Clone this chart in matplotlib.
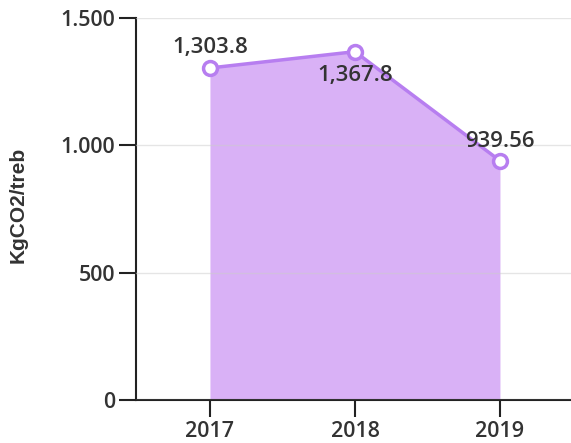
import numpy as np
import matplotlib as mpl
mpl.use('Agg')
import matplotlib.pyplot as plt

# data
years = ['2017', '2018', '2019']
values = [1303.8, 1367.8, 939.56]
value_labels = ['1,303.8', '1,367.8', '939.56']
y_ticks = [0, 500, 1000, 1500]
y_tick_labels = ['0', '500', '1.000', '1.500']

line_color = '#b77ef0'
fill_color = '#d9b1f6'
text_color = '#333333'

plt.rcParams['font.family'] = ['Open Sans', 'DejaVu Sans']

fig = plt.figure(figsize=(5.71, 4.43), dpi=100)
ax = fig.add_axes([136/571, 43/443, 435/571, 382/443])

x = np.arange(len(years))
ax.fill_between(x, 0, values, color=fill_color, linewidth=0, zorder=1)
ax.plot(x, values, color=line_color, linewidth=2.5, zorder=3)
ax.plot(x, values, 'o', markersize=10, markerfacecolor='white',
        markeredgecolor=line_color, markeredgewidth=2.5, zorder=4)

# value labels
offsets = [(0, 15), (0, -17), (0, 14)]
for xi, v, lab, off in zip(x, values, value_labels, offsets):
    ax.annotate(lab, (xi, v), xytext=off, textcoords='offset points',
                ha='center', va='center', fontsize=16, color=text_color,
                fontweight='semibold')

ax.set_xlim(-0.51, 2.49)
ax.set_ylim(0, 1500)
ax.set_xticks(x)
ax.set_xticklabels(years)
ax.set_yticks(y_ticks)
ax.set_yticklabels(y_tick_labels)

ax.grid(axis='y', color='#cccccc', alpha=0.5, linewidth=1, zorder=2)
ax.set_axisbelow(False)
for s in ['top', 'right']:
    ax.spines[s].set_visible(False)
for s in ['left', 'bottom']:
    ax.spines[s].set_color('#222222')
    ax.spines[s].set_linewidth(1.5)
ax.tick_params(length=12, width=1.5, color='#222222', labelsize=15.5,
               labelcolor=text_color, pad=3)
for lab in ax.get_xticklabels() + ax.get_yticklabels():
    lab.set_fontweight('semibold')

ax.set_ylabel('KgCO2/treb', fontsize=15, color=text_color,
              fontweight='bold', family=['Liberation Sans', 'DejaVu Sans'])
ax.yaxis.set_label_coords(-0.25, 0.51)

plt.savefig('out.png', dpi=100)
